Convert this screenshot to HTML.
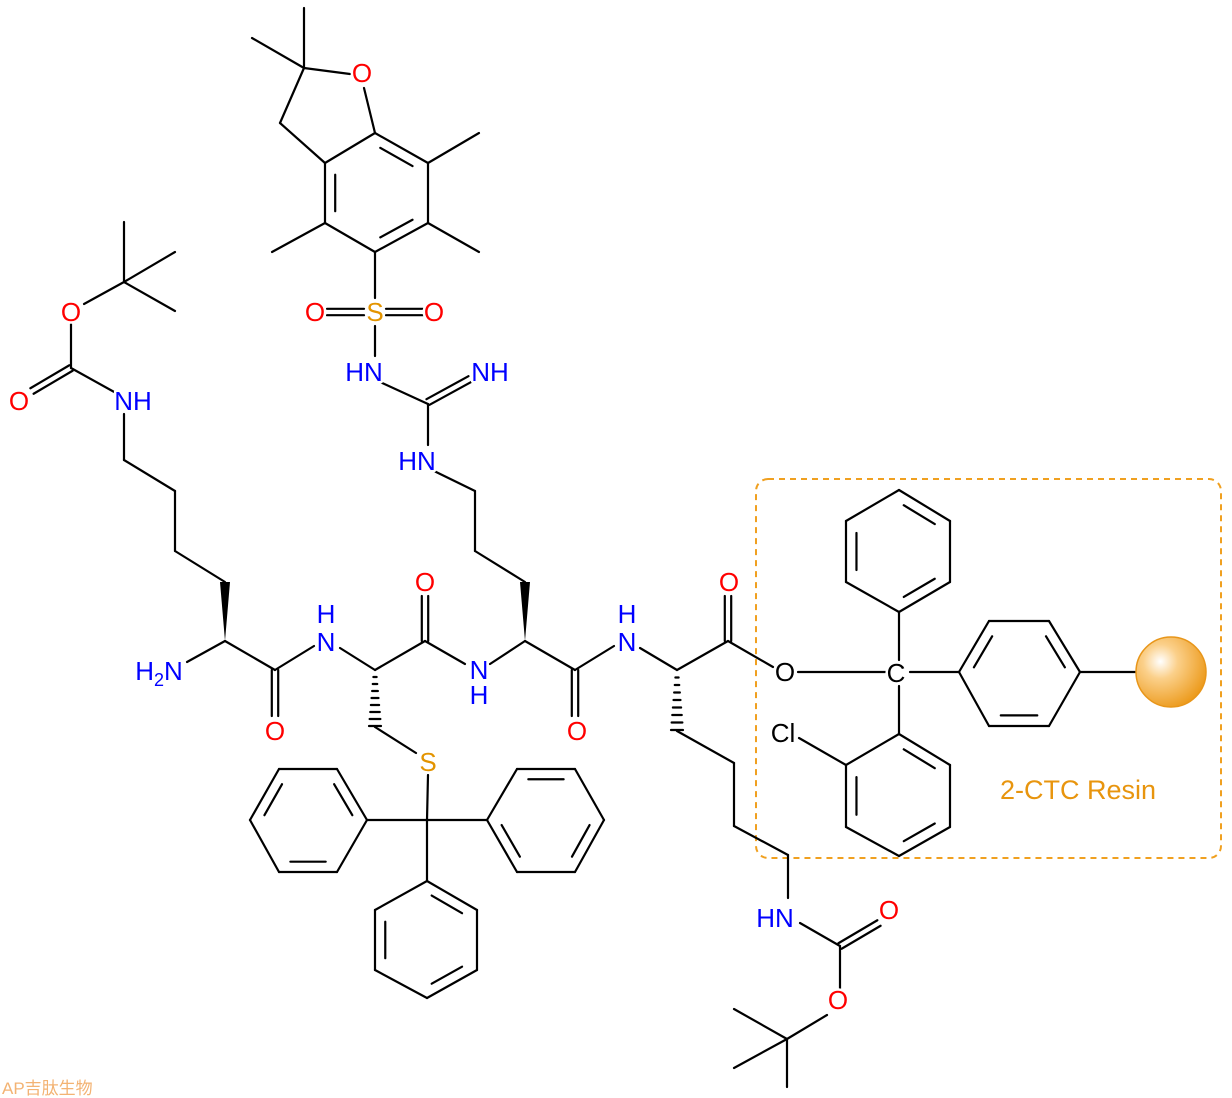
<!DOCTYPE html>
<html><head><meta charset="utf-8"><style>
html,body{margin:0;padding:0;background:#fff;}
svg{display:block;}
#t text{font-family:"Liberation Sans",Arial,sans-serif;font-size:26px;paint-order:stroke;stroke:#fff;stroke-width:5px;stroke-linejoin:round;}
.N{fill:#0000ff}.O{fill:#ff0000}.S{fill:#e39400}
</style></head><body>
<svg id="s" width="1232" height="1098" viewBox="0 0 1232 1098" xmlns="http://www.w3.org/2000/svg">
<defs>
<radialGradient id="g" cx="0.35" cy="0.35" r="0.7">
<stop offset="0" stop-color="#ffffff"/><stop offset="0.35" stop-color="#fbd08a"/><stop offset="1" stop-color="#ec9a1c"/>
</radialGradient>
</defs>
<rect x="756" y="479" width="465" height="379" rx="12" fill="none" stroke="#f0a020" stroke-width="2" stroke-dasharray="6,5"/>
<g id="b" stroke="#000" stroke-width="2.2" fill="none" stroke-linecap="round"></g>
<circle cx="1171" cy="672" r="35" fill="url(#g)" stroke="#e8961a" stroke-width="1.5"/>
<g id="t"></g>
<text x="1078" y="799" text-anchor="middle" style="font-family:'Liberation Sans',sans-serif;font-size:27px;fill:#e8950e">2-CTC Resin</text>
<text x="2" y="1094" style="font-size:17px;fill:#f3b373;font-family:'Liberation Sans','Noto Sans CJK SC',sans-serif">AP吉肽生物</text>
</svg>
<script>
var B=document.getElementById('b'),T=document.getElementById('t'),NS='http://www.w3.org/2000/svg';
function L(a,b,c,d){var e=document.createElementNS(NS,'line');e.setAttribute('x1',a);e.setAttribute('y1',b);e.setAttribute('x2',c);e.setAttribute('y2',d);B.appendChild(e);}
function P(pts){for(var i=0;i<pts.length-1;i++)L(pts[i][0],pts[i][1],pts[i+1][0],pts[i+1][1]);}
function D(a,b,o){o=o||3.2;var dx=b[0]-a[0],dy=b[1]-a[1],l=Math.hypot(dx,dy),nx=-dy/l*o,ny=dx/l*o;L(a[0]+nx,a[1]+ny,b[0]+nx,b[1]+ny);L(a[0]-nx,a[1]-ny,b[0]-nx,b[1]-ny);}
function ring(v,dbl){var cx=0,cy=0;v.forEach(function(p){cx+=p[0];cy+=p[1];});cx/=6;cy/=6;
 for(var i=0;i<6;i++){var a=v[i],b=v[(i+1)%6];L(a[0],a[1],b[0],b[1]);
  if(dbl.indexOf(i)>=0){var f=0.2,s=0.12;var a2=[a[0]+(cx-a[0])*f,a[1]+(cy-a[1])*f],b2=[b[0]+(cx-b[0])*f,b[1]+(cy-b[1])*f];
   L(a2[0]+(b2[0]-a2[0])*s,a2[1]+(b2[1]-a2[1])*s,b2[0]+(a2[0]-b2[0])*s,b2[1]+(a2[1]-b2[1])*s);}}}
function wedge(a,b){var dx=b[0]-a[0],dy=b[1]-a[1],l=Math.hypot(dx,dy),nx=-dy/l*5,ny=dx/l*5;var p=document.createElementNS(NS,'polygon');p.setAttribute('points',a[0]+','+a[1]+' '+(b[0]+nx)+','+(b[1]+ny)+' '+(b[0]-nx)+','+(b[1]-ny));p.setAttribute('fill','#000');p.setAttribute('stroke','none');B.appendChild(p);}
function hash(a,b){var n=8;for(var i=1;i<=n;i++){var t=i/n,x=a[0]+(b[0]-a[0])*t,y=a[1]+(b[1]-a[1])*t,w=1+5*t;L(x-w,y,x+w,y);}}
function txt(x,y,s,c,anc){var e=document.createElementNS(NS,'text');e.setAttribute('x',x);e.setAttribute('y',y);e.setAttribute('text-anchor',anc||'middle');if(c)e.setAttribute('class',c);e.innerHTML=s;T.appendChild(e);}
// Pbf
P([[304,8],[304,68],[252,38]]);P([[304,68],[350,74]]);P([[364,88],[375,133]]);P([[304,68],[280,123],[325,163]]);
ring([[375,133],[428,163],[428,223],[375,252],[325,223],[325,163]],[0,2,4]);
P([[428,163],[479,133]]);P([[428,223],[479,252]]);P([[325,223],[272,252]]);
P([[375,252],[375,298]]);P([[375,326],[375,356]]);D([327,312],[364,312]);D([386,312],[423,312]);
P([[380,382],[428,404],[428,445]]);D([428,402],[470,379]);P([[432,470],[475,491],[475,551],[525,582]]);
// Lys1 Boc
P([[124,222],[124,282],[175,252]]);P([[124,282],[175,311]]);P([[124,282],[84,304]]);P([[71,324],[71,368],[116,393]]);D([71,368],[32,391]);
P([[124,414],[124,460],[175,491],[175,551],[225,582]]);
// backbone
wedge([225,641],[225,582]);P([[187,662],[225,641],[275,670],[314,646]]);D([275,670],[275,716]);
P([[340,648],[375,670],[425,641],[465,664]]);hash([375,670],[375,726]);P([[375,727],[416,753]]);D([425,641],[425,596]);
P([[490,664],[525,641],[575,670],[614,646]]);wedge([525,641],[525,582]);D([575,670],[575,716]);
P([[640,648],[677,670],[728,641],[773,667]]);hash([677,670],[677,730]);D([728,641],[728,596]);
P([[798,672],[888,672]]);
P([[677,731],[734,763],[734,826],[788,855],[788,898]]);
P([[800,923],[840,946],[840,992]]);D([840,946],[879,923]);P([[827,1015],[787,1039],[734,1009]]);P([[787,1039],[734,1068]]);P([[787,1039],[787,1087]]);
// S trityl
P([[428,775],[427,820]]);P([[367,820],[487,820]]);P([[427,820],[427,881]]);
ring([[367,820],[337,769],[279,769],[250,820],[279,872],[337,872]],[0,2,4]);
ring([[487,820],[517,769],[575,769],[604,820],[575,872],[517,872]],[1,3,5]);
ring([[427,881],[477,910],[477,970],[427,998],[375,970],[375,910]],[0,2,4]);
// CTC
P([[899,660],[899,612]]);P([[899,686],[899,734]]);P([[910,672],[959,672]]);P([[1080,672],[1136,672]]);
ring([[899,612],[846,582],[846,521],[899,490],[950,521],[950,582]],[1,3,5]);
ring([[959,672],[989,621],[1049,621],[1080,672],[1049,726],[989,726]],[0,2,4]);
ring([[899,734],[950,765],[950,827],[899,856],[846,827],[846,765]],[0,2,4]);
P([[799,738],[846,765]]);
// labels
txt(362,82,'O','O');txt(315,321,'O','O');txt(375,321,'S','S');txt(434,321,'O','O');
txt(364,381,'HN','N');txt(490,381,'NH','N');txt(417,470,'HN','N');
txt(71,321,'O','O');txt(19,410,'O','O');txt(133,410,'NH','N');
txt(159,680,'H<tspan style="font-size:18px" dy="6">2</tspan><tspan dy="-6">N</tspan>','N');
txt(275,740,'O','O');txt(326,623,'H','N');txt(326,651,'N','N');txt(425,591,'O','O');txt(428,771,'S','S');
txt(479,679,'N','N');txt(479,704,'H','N');txt(577,740,'O','O');txt(627,623,'H','N');txt(627,651,'N','N');txt(729,591,'O','O');
txt(785,681,'O');txt(896,682,'C');txt(783,742,'Cl');
txt(775,927,'HN','N');txt(889,919,'O','O');txt(838,1009,'O','O');
</script>
</body></html>
